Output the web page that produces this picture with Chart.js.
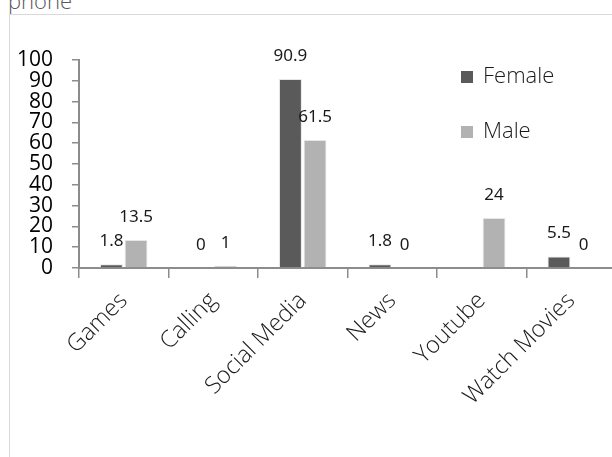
<!DOCTYPE html>
<html>
<head>
<meta charset="utf-8">
<script src="https://cdn.jsdelivr.net/npm/chart.js@4.4.0/dist/chart.umd.min.js"></script>
<style>
  html, body { margin: 0; padding: 0; width: 612px; height: 457px; overflow: hidden; background: #fff; }
  #frame { position: absolute; left: 9px; top: 14px; width: 700px; height: 600px; border: 1px solid #d9d9d9; box-sizing: border-box; }
  #title { position: absolute; left: 8px; top: -11px; font-family: "Open Sans", sans-serif; font-weight: 300; font-size: 22px; line-height: 22px; color: #595959; white-space: nowrap; }
  #wrap { position: absolute; left: 0; top: 0; width: 616px; height: 457px; }
</style>
</head>
<body>
<div id="frame"></div>
<div id="title">phone</div>
<div id="wrap"><canvas id="c" width="616" height="457"></canvas></div>
<script>
const categories = ["Games", "Calling", "Social Media", "News", "Youtube", "Watch Movies"];
const femaleValues = [1.8, 0, 90.9, 1.8, 0, 5.5];
const maleValues = [13.5, 1, 61.5, 0, 24, 0];
const femaleLabels = ["1.8", "0", "90.9", "1.8", "", "5.5"];
const maleLabels = ["13.5", "1", "61.5", "0", "24", "0"];
const yTicks = [0, 10, 20, 30, 40, 50, 60, 70, 80, 90, 100];

const FEMALE = "#5a5a5a";
const MALE = "#b2b2b2";
const AXIS = "#8c8c8c";

const valueLabelPlugin = {
  id: "valueLabels",
  afterDatasetsDraw(chart) {
    const ctx = chart.ctx;
    const texts = [femaleLabels, maleLabels];
    ctx.save();
    ctx.font = "17px 'Noto Sans', sans-serif";
    ctx.fillStyle = "#1a1a1a";
    ctx.textAlign = "center";
    ctx.textBaseline = "middle";
    chart.data.datasets.forEach((ds, di) => {
      const meta = chart.getDatasetMeta(di);
      meta.data.forEach((bar, i) => {
        const t = texts[di][i];
        if (t) ctx.fillText(t, bar.x, bar.y - 23);
      });
    });
    ctx.restore();
  }
};

const legendPlugin = {
  id: "sideLegend",
  afterDraw(chart) {
    const ctx = chart.ctx;
    ctx.save();
    ctx.font = "300 22px 'Open Sans', sans-serif";
    ctx.textBaseline = "middle";
    ctx.textAlign = "left";
    const rows = [77, 132];
    chart.data.datasets.forEach((ds, di) => {
      const y = rows[di];
      ctx.fillStyle = ds.backgroundColor;
      ctx.fillRect(461, y - 6, 12, 12);
      ctx.fillStyle = "#1a1a1a";
      ctx.fillText(ds.label, 483, y);
    });
    ctx.restore();
  }
};

new Chart(document.getElementById("c"), {
  type: "bar",
  data: {
    labels: categories,
    datasets: [
      { label: "Female", data: femaleValues, backgroundColor: FEMALE, borderColor: "#e6e6e6", borderWidth: 1,
        categoryPercentage: 0.55, barPercentage: 0.93 },
      { label: "Male", data: maleValues, backgroundColor: MALE, borderColor: "#e6e6e6", borderWidth: 1,
        categoryPercentage: 0.55, barPercentage: 0.93 }
    ]
  },
  options: {
    responsive: false,
    animation: false,
    layout: { padding: { left: 0, right: 0, top: 60, bottom: 0 } },
    plugins: { legend: { display: false }, tooltip: { enabled: false }, title: { display: false } },
    scales: {
      x: {
        grid: { display: true, drawOnChartArea: false, drawTicks: true, tickLength: 10, color: AXIS, lineWidth: 1.5, offset: true },
        border: { display: true, color: AXIS, width: 2 },
        ticks: { minRotation: 45, maxRotation: 45, autoSkip: false, padding: 9,
          font: { family: "'Open Sans', sans-serif", size: 23.5, weight: 300 }, color: "#1a1a1a" },
        afterFit(axis) { axis.height = 189; }
      },
      y: {
        min: 0, max: 100,
        afterBuildTicks(axis) { axis.ticks = yTicks.map(v => ({ value: v })); },
        grid: { display: true, drawOnChartArea: false, drawTicks: true, tickLength: 7, color: AXIS, lineWidth: 1.5 },
        border: { display: true, color: AXIS, width: 2 },
        ticks: { autoSkip: false, padding: 19, font: { family: "'Open Sans', sans-serif", size: 21 }, color: "#000" },
        afterFit(axis) { axis.width = 79; }
      }
    }
  },
  plugins: [valueLabelPlugin, legendPlugin]
});
</script>
</body>
</html>
